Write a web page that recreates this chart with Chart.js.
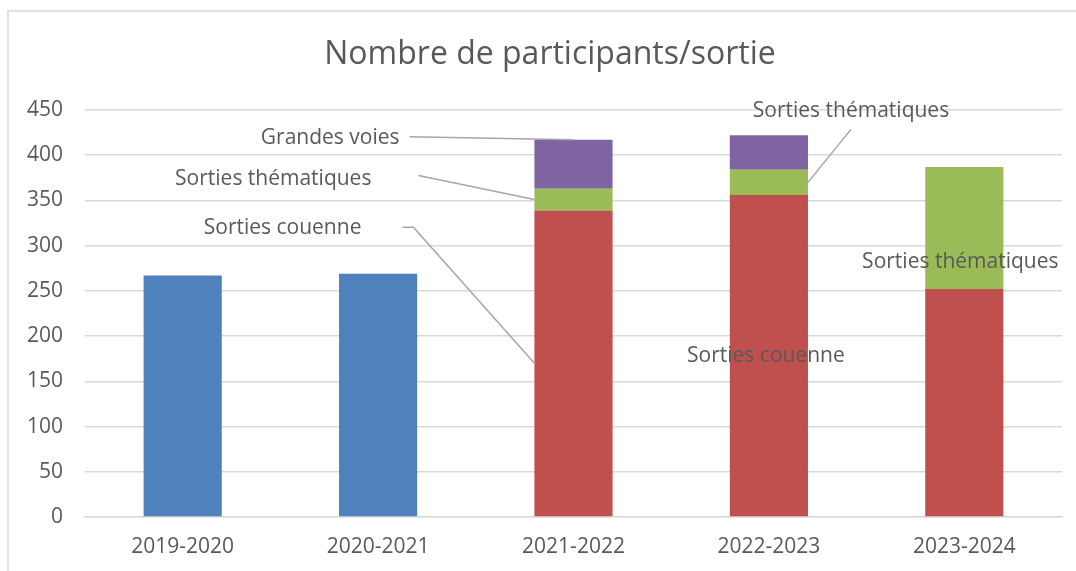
<!DOCTYPE html>
<html><head><meta charset="utf-8">
<script src="https://cdn.jsdelivr.net/npm/chart.js@4/dist/chart.umd.min.js"></script>
<style>html,body{margin:0;padding:0;background:#fff;}#wrap{width:1076px;height:571px;}</style>
</head><body><div id="wrap"><canvas id="c" width="1076" height="571"></canvas></div>
<script>
const titleText = 'Nombre de participants/sortie';
const categories = ['2019-2020', '2020-2021', '2021-2022', '2022-2023', '2023-2024'];
const totalParticipants = [267, 269, null, null, null];
const sortiesCouenne = [null, null, 339, 356, 252];
const sortiesThematiques = [null, null, 24, 28, 135];
const grandesVoies = [null, null, 54, 38, null];
const yTicks = [0, 50, 100, 150, 200, 250, 300, 350, 400, 450];
const seriesNames = ['Total', 'Sorties couenne', 'Sorties thématiques', 'Grandes voies'];

const FONT = '"Open Sans", sans-serif';
const TXT = '#595959';

// annotation layout (style/positions kept here, not in data)
const annotations = [
  {ds: 3, idx: 2, text: seriesNames[3], anchor: 'top-center', tx: -174, ty: -2, align: 'right', line: [[-164, -3]]},
  {ds: 2, idx: 2, text: seriesNames[2], anchor: 'mid-left', tx: -163, ty: -21, align: 'right', line: [[-116, -24]]},
  {ds: 1, idx: 2, text: seriesNames[1], anchor: 'mid-left', tx: -173, ty: -135, align: 'right', line: [[-132, -136], [-121, -136]]},
  {ds: 2, idx: 3, text: seriesNames[2], anchor: 'mid-right', tx: 43, ty: -71, align: 'center', line: [[43, -53]]},
  {ds: 1, idx: 3, text: seriesNames[1], anchor: 'mid-center', tx: -3, ty: 0, align: 'center'},
  {ds: 2, idx: 4, text: seriesNames[2], anchor: 'bottom-center', tx: -4, ty: -27, align: 'center'}
];

const annotPlugin = {
  id: 'annot',
  beforeDraw(chart) {
    const ctx = chart.ctx;
    ctx.save();
    ctx.fillStyle = '#fff';
    ctx.fillRect(0, 0, chart.width, chart.height);
    ctx.strokeStyle = '#d9d9d9';
    ctx.lineWidth = 1.5;
    ctx.strokeRect(8, 11, chart.width + 20, chart.height + 20);
    ctx.fillStyle = TXT;
    ctx.font = '32px ' + FONT;
    ctx.textAlign = 'center';
    ctx.textBaseline = 'middle';
    ctx.fillText(titleText, 550, 55);
    ctx.restore();
  },
  afterDatasetsDraw(chart) {
    const ctx = chart.ctx;
    ctx.save();
    ctx.font = '21px ' + FONT;
    ctx.textBaseline = 'middle';
    annotations.forEach(a => {
      const el = chart.getDatasetMeta(a.ds).data[a.idx];
      if (!el) return;
      const p = el.getProps(['x', 'y', 'base', 'width'], true);
      const top = Math.min(p.y, p.base), bot = Math.max(p.y, p.base);
      const [v, h] = a.anchor.split('-');
      const ay = v === 'top' ? top : v === 'bottom' ? bot : (top + bot) / 2;
      const ax = h === 'left' ? p.x - p.width / 2 : h === 'right' ? p.x + p.width / 2 : p.x;
      if (a.line) {
        ctx.strokeStyle = '#a6a6a6';
        ctx.lineWidth = 1.5;
        ctx.beginPath();
        ctx.moveTo(ax + a.line[0][0], ay + a.line[0][1]);
        for (let i = 1; i < a.line.length; i++) ctx.lineTo(ax + a.line[i][0], ay + a.line[i][1]);
        ctx.lineTo(ax, ay);
        ctx.stroke();
      }
      ctx.fillStyle = TXT;
      ctx.textAlign = a.align;
      ctx.fillText(a.text, ax + a.tx, ay + a.ty);
    });
    ctx.restore();
  }
};

new Chart(document.getElementById('c'), {
  type: 'bar',
  data: {
    labels: categories,
    datasets: [
      {label: seriesNames[0], data: totalParticipants, backgroundColor: '#4f81bd', stack: 's'},
      {label: seriesNames[1], data: sortiesCouenne, backgroundColor: '#c0504d', stack: 's'},
      {label: seriesNames[2], data: sortiesThematiques, backgroundColor: '#9bbb59', stack: 's'},
      {label: seriesNames[3], data: grandesVoies, backgroundColor: '#8064a2', stack: 's'}
    ]
  },
  options: {
    responsive: false,
    animation: false,
    devicePixelRatio: 1,
    layout: {padding: {left: 0, right: 14, top: 110, bottom: 10}},
    datasets: {bar: {categoryPercentage: 1, barPercentage: 0.4}},
    plugins: {
      legend: {display: false},
      tooltip: {enabled: false},
      title: {display: false}
    },
    scales: {
      x: {
        stacked: true,
        grid: {display: false, drawTicks: false},
        border: {display: true, color: '#d9d9d9', width: 1.5},
        ticks: {color: TXT, font: {family: FONT, size: 21}, padding: 17},
        afterFit(scale) { scale.height = 44; }
      },
      y: {
        stacked: true,
        min: 0, max: 450,
        afterBuildTicks(scale) { scale.ticks = yTicks.map(v => ({value: v})); },
        grid: {color: '#d9d9d9', lineWidth: 1.5, drawTicks: false},
        border: {display: false},
        ticks: {color: TXT, font: {family: FONT, size: 21}, padding: 22},
        afterFit(scale) { scale.width = 85; }
      }
    }
  },
  plugins: [annotPlugin]
});
</script></body></html>
